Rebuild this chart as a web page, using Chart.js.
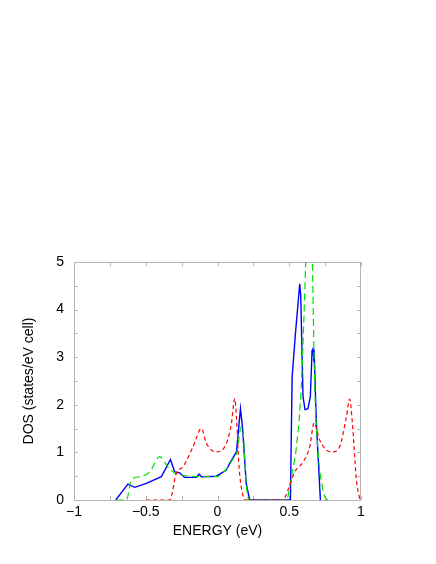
<!DOCTYPE html>
<html>
<head>
<meta charset="utf-8">
<script src="https://cdn.jsdelivr.net/npm/chart.js@4"></script>
<style>
  body { margin: 0; background: #fff; }
</style>
</head>
<body>
<canvas id="chart" width="436" height="564"></canvas>
<script>
// energy (eV) / DOS values
const blueX = [-0.709, -0.624, -0.577, -0.496, -0.391, -0.328, -0.298, -0.263, -0.229, -0.147, -0.129, -0.112, -0.008, 0.062, 0.085, 0.132, 0.16, 0.174, 0.20, 0.224, 0.508, 0.52, 0.543, 0.573, 0.58, 0.596, 0.61, 0.63, 0.647, 0.659, 0.665, 0.67, 0.674, 0.689, 0.717];
const blueY = [0, 0.335, 0.266, 0.35, 0.49, 0.85, 0.59, 0.57, 0.475, 0.475, 0.545, 0.49, 0.50, 0.63, 0.77, 1.01, 1.92, 1.54, 0.35, 0, 0, 2.58, 3.49, 4.54, 4.3, 2.17, 1.9, 1.92, 2.17, 3.14, 3.2, 3.0, 3.07, 1.61, 0];

const greenX = [-0.705, -0.635, -0.6, -0.542, -0.472, -0.403, -0.345, -0.298, -0.24, -0.124, -0.008, 0.062, 0.12, 0.132, 0.166, 0.177, 0.20, 0.22, 0.48, 0.515, 0.55, 0.585, 0.615, 0.638, 0.661, 0.677, 0.70, 0.735, 0.758, 0.79];
const greenY = [0, 0, 0.42, 0.49, 0.59, 0.91, 0.69, 0.57, 0.52, 0.49, 0.49, 0.65, 0.91, 0.95, 1.54, 1.47, 0.35, 0, 0, 0.49, 1.12, 2.45, 5.0, 7.0, 5.0, 2.45, 1.05, 0.21, 0.02, 0];

const redX = [-0.496, -0.333, -0.287, -0.24, -0.17, -0.112, -0.077, -0.008, 0.062, 0.097, 0.12, 0.132, 0.15, 0.174, 0.2, 0.456, 0.491, 0.538, 0.596, 0.643, 0.673, 0.712, 0.759, 0.80, 0.851, 0.898, 0.921, 0.94, 0.968, 0.991];
const redY = [0, 0, 0.56, 0.70, 1.12, 1.50, 1.19, 1.01, 1.19, 1.61, 2.13, 1.75, 0.7, 0.14, 0, 0, 0.21, 0.59, 0.80, 1.12, 1.62, 1.26, 1.05, 1.01, 1.12, 1.75, 2.12, 1.61, 0.42, 0.02];

const xTickStep = 0.25;
const yTickStep = 0.5;

const FONT = { family: '"Liberation Sans", Arial, Helvetica, sans-serif', size: 14 };
const FRAME = '#b4b4b4';

function pts(xs, ys) {
    return xs.map((x, i) => ({ x: x, y: ys[i] }));
}

// frame round the plot and small inward ticks on all four sides, under the curves
const frame = {
    id: 'frame',
    beforeDatasetsDraw(chart) {
        const { ctx, chartArea: a, scales: { x, y } } = chart;
        ctx.save();
        ctx.strokeStyle = FRAME;
        ctx.lineWidth = 1;
        ctx.strokeRect(a.left + 0.5, a.top + 0.5, a.right - a.left - 1, a.bottom - a.top);
        ctx.beginPath();
        for (let v = x.min; v <= x.max + 1e-9; v += xTickStep) {
            const px = Math.round(x.getPixelForValue(v)) + 0.5;
            ctx.moveTo(px, a.bottom); ctx.lineTo(px, a.bottom - 4);
            ctx.moveTo(px, a.top); ctx.lineTo(px, a.top + 4);
        }
        for (let v = y.min; v <= y.max + 1e-9; v += yTickStep) {
            const py = Math.round(y.getPixelForValue(v)) + 0.5;
            ctx.moveTo(a.left, py); ctx.lineTo(a.left + 4, py);
            ctx.moveTo(a.right, py); ctx.lineTo(a.right - 4, py);
        }
        ctx.stroke();
        ctx.restore();
    }
};

Chart.defaults.color = '#000';
Chart.defaults.font = FONT;

new Chart(document.getElementById('chart').getContext('2d'), {
    type: 'scatter',
    data: {
        datasets: [{
            data: pts(redX, redY),
            borderColor: '#ff0000',
            borderDash: [4, 3],
            cubicInterpolationMode: 'monotone'
        }, {
            data: pts(greenX, greenY),
            borderColor: '#00e000',
            borderDash: [7, 4],
            cubicInterpolationMode: 'monotone'
        }, {
            data: pts(blueX, blueY),
            borderColor: '#0000ff',
            borderWidth: 1.4
        }]
    },
    options: {
        responsive: false,
        animation: false,
        showLine: true,
        elements: {
            point: { radius: 0 },
            line: { borderWidth: 1.2, fill: false }
        },
        layout: { padding: { left: 21, right: 75, top: 262, bottom: 24 } },
        plugins: { legend: { display: false }, tooltip: { enabled: false } },
        scales: {
            x: {
                type: 'linear',
                min: -1,
                max: 1,
                grid: { display: false, drawTicks: false },
                border: { display: false },
                ticks: {
                    stepSize: 0.5,
                    padding: 4,
                    maxRotation: 0,
                    callback: v => String(v).replace('-', '\u2212')
                },
                title: { display: true, text: 'ENERGY (eV)', font: FONT, padding: 0 },
                afterFit: s => { s.height = 40; }
            },
            y: {
                min: 0,
                max: 5,
                grid: { display: false, drawTicks: false },
                border: { display: false },
                ticks: { stepSize: 1, padding: 10 },
                title: { display: true, text: 'DOS (states/eV cell)', font: FONT, padding: 0 },
                afterFit: s => { s.width = 53; }
            }
        }
    },
    plugins: [frame]
});
</script>
</body>
</html>
